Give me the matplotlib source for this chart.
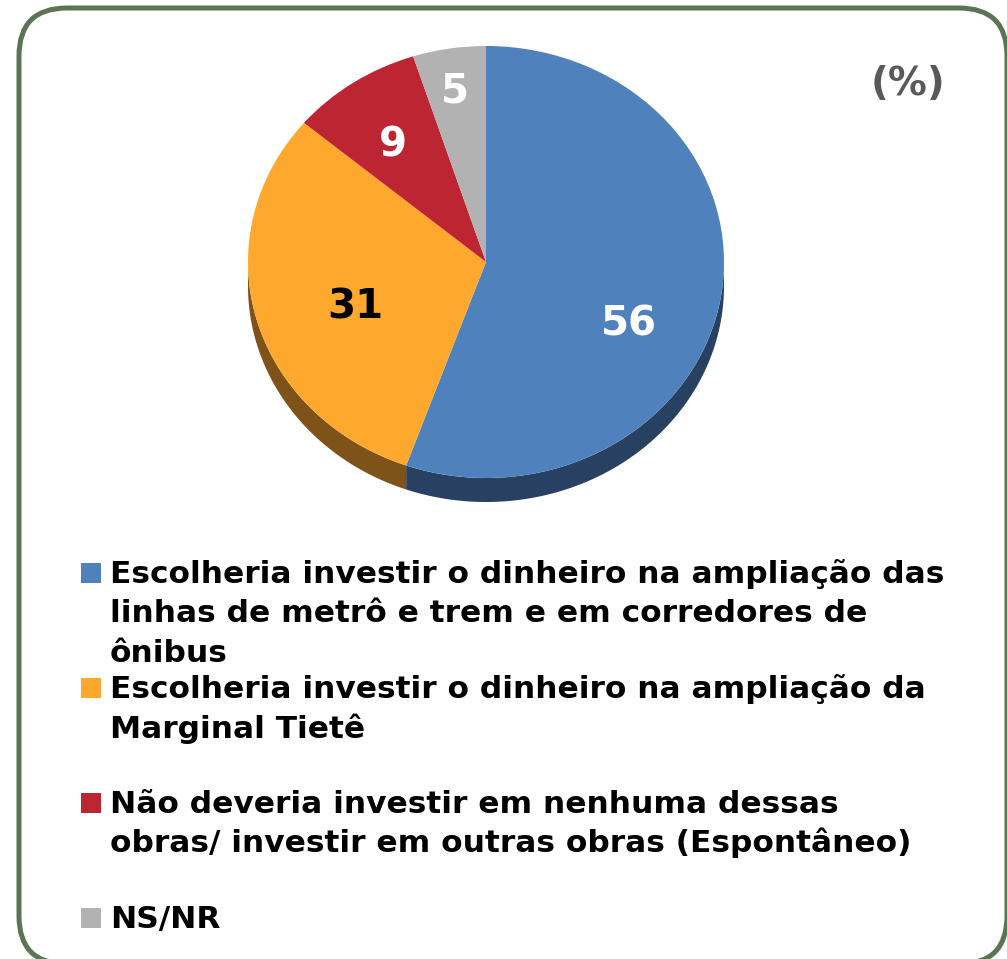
import numpy as np
import matplotlib
matplotlib.use('Agg')
import matplotlib.pyplot as plt
from matplotlib.patches import FancyBboxPatch, Polygon, Rectangle

# dados da pesquisa (%)
valores = [56, 31, 9, 5]
rotulos = ['Escolheria investir o dinheiro na ampliação das\nlinhas de metrô e trem e em corredores de\nônibus',
           'Escolheria investir o dinheiro na ampliação da\nMarginal Tietê',
           'Não deveria investir em nenhuma dessas\nobras/ investir em outras obras (Espontâneo)',
           'NS/NR']
cores = ['#4F81BD', '#FFA82E', '#BE2532', '#B2B2B2']
cores_lado = ['#284061', '#7D531A', '#5E1218', '#595959']
cores_texto = ['white', 'black', 'white', 'white']
pos_texto = [(0.60, -0.29), (-0.55, -0.21), (-0.39, 0.54), (-0.13, 0.79)]

W, H = 1007, 959
plt.rcParams['font.family'] = ['DejaVu Sans']
fig = plt.figure(figsize=(W / 100, H / 100), dpi=100)

# fundo em coordenadas de pixel
bg = fig.add_axes([0, 0, 1, 1])
bg.set_xlim(0, W)
bg.set_ylim(H, 0)
bg.axis('off')
bg.add_patch(FancyBboxPatch((19, 8), 988, 956, boxstyle='round,pad=0,rounding_size=48',
                            fc='white', ec='#5B7453', lw=3.6, clip_on=False))

# pizza: elipse de 476x432 px, profundidade 24 px
px0, px1, py0, py1 = 248, 724, 46, 478
prof = 24 / ((py1 - py0) / 2)
altura_px = (py1 - py0) + 24
ax = fig.add_axes([px0 / W, (H - py1 - 24) / H, (px1 - px0) / W, altura_px / H])
wedges, _ = ax.pie(valores, colors=cores, startangle=90, counterclock=False, radius=1,
                   wedgeprops=dict(linewidth=0))
ax.set_aspect('auto')
ax.set_xlim(-1, 1)
ax.set_ylim(-1 - prof, 1)
ax.axis('off')

# lateral da pizza (parte de baixo)
for w, c in zip(wedges, cores_lado):
    t1, t2 = w.theta1 % 360, w.theta2 % 360
    if t2 <= t1:
        t2 += 360
    a = max(t1, 180)
    b = min(t2, 360)
    if b > a:
        th = np.radians(np.linspace(a, b, 100))
        xs, ys = np.cos(th), np.sin(th)
        pts = np.concatenate([np.c_[xs, ys], np.c_[xs[::-1], ys[::-1] - prof]])
        ax.add_patch(Polygon(pts, closed=True, fc=c, ec='none', zorder=0))

for v, (x, y), c in zip(valores, pos_texto, cores_texto):
    ax.text(x, y, str(v), ha='center', va='center', fontsize=29, fontweight='bold', color=c)

bg.text(908, 84, '(%)', ha='center', va='center', fontsize=28, fontweight='bold', color='#595959')

# legenda
base_y = [583, 698, 813, 928]
passo = 39.5
for lab, c, y in zip(rotulos, cores, base_y):
    bg.add_patch(Rectangle((81, y - 20), 20, 20, fc=c, ec='none'))
    for i, linha in enumerate(lab.split('\n')):
        bg.text(110, y + i * passo, linha, ha='left', va='baseline', fontsize=22.5,
                fontweight='bold', color='black')

fig.savefig('out.png', dpi=100)
